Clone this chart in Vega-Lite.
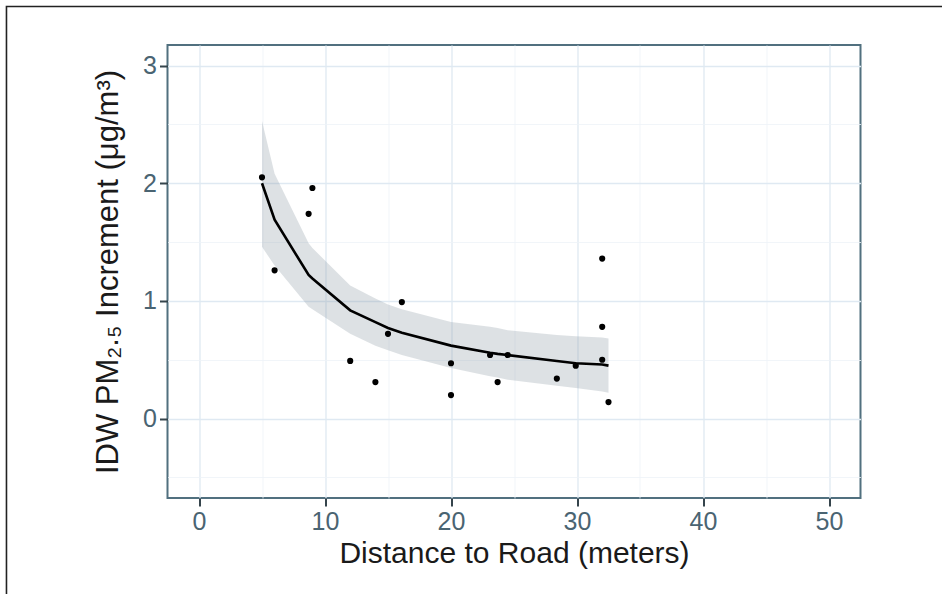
{
  "$schema": "https://vega.github.io/schema/vega-lite/v6.json",
  "autosize": {"type": "none"},
  "width": 693,
  "height": 453,
  "padding": {"left": 167.5, "top": 45, "right": 81.5, "bottom": 96},
  "background": "white",
  "datasets": {
    "points": [
      {"distance": 5.0, "increment": 2.05},
      {"distance": 6.0, "increment": 1.26},
      {"distance": 8.7, "increment": 1.74},
      {"distance": 9.0, "increment": 1.96},
      {"distance": 12.0, "increment": 0.49},
      {"distance": 14.0, "increment": 0.31},
      {"distance": 15.0, "increment": 0.72},
      {"distance": 16.1, "increment": 0.99},
      {"distance": 20.0, "increment": 0.47},
      {"distance": 20.0, "increment": 0.20},
      {"distance": 23.1, "increment": 0.54},
      {"distance": 23.7, "increment": 0.31},
      {"distance": 24.5, "increment": 0.54},
      {"distance": 28.4, "increment": 0.34},
      {"distance": 29.9, "increment": 0.45},
      {"distance": 32.0, "increment": 1.36},
      {"distance": 32.0, "increment": 0.78},
      {"distance": 32.0, "increment": 0.50},
      {"distance": 32.5, "increment": 0.14}
    ],
    "fit": [
      {"distance": 5.0, "fit": 2.00, "lower": 1.46, "upper": 2.53},
      {"distance": 6.0, "fit": 1.69, "lower": 1.30, "upper": 2.08},
      {"distance": 8.7, "fit": 1.22, "lower": 0.95, "upper": 1.49},
      {"distance": 9.0, "fit": 1.19, "lower": 0.93, "upper": 1.45},
      {"distance": 12.0, "fit": 0.92, "lower": 0.72, "upper": 1.13},
      {"distance": 14.0, "fit": 0.82, "lower": 0.62, "upper": 1.02},
      {"distance": 15.0, "fit": 0.77, "lower": 0.58, "upper": 0.97},
      {"distance": 16.1, "fit": 0.73, "lower": 0.54, "upper": 0.93},
      {"distance": 20.0, "fit": 0.62, "lower": 0.43, "upper": 0.82},
      {"distance": 23.1, "fit": 0.56, "lower": 0.36, "upper": 0.78},
      {"distance": 23.7, "fit": 0.55, "lower": 0.35, "upper": 0.77},
      {"distance": 24.5, "fit": 0.54, "lower": 0.33, "upper": 0.75},
      {"distance": 28.4, "fit": 0.49, "lower": 0.28, "upper": 0.71},
      {"distance": 29.9, "fit": 0.47, "lower": 0.26, "upper": 0.70},
      {"distance": 32.0, "fit": 0.46, "lower": 0.23, "upper": 0.69},
      {"distance": 32.5, "fit": 0.45, "lower": 0.22, "upper": 0.68}
    ]
  },
  "layer": [
    {
      "data": {"name": "fit"},
      "mark": {"type": "area", "fill": "#8f9ca4", "opacity": 0.3},
      "encoding": {
        "x": {
          "field": "distance",
          "type": "quantitative",
          "scale": {"domain": [-2.5, 52.5], "nice": false, "zero": false},
          "axis": {
            "title": "Distance to Road (meters)",
            "values": [0, 5, 10, 15, 20, 25, 30, 35, 40, 45, 50],
            "labelExpr": "datum.value % 10 === 0 ? format(datum.value, 'd') : ''",
            "gridColor": {"condition": {"test": "datum.value % 10 === 0", "value": "#dfe9f2"}, "value": "#edf3f8"},
            "gridWidth": {"condition": {"test": "datum.value % 10 === 0", "value": 1.3}, "value": 0.8},
            "tickColor": {"condition": {"test": "datum.value % 10 === 0", "value": "#35444c"}, "value": "transparent"}
          }
        },
        "y": {
          "field": "lower",
          "type": "quantitative",
          "scale": {"domain": [-0.675, 3.175], "nice": false, "zero": false},
          "axis": {
            "title": "IDW PM₂.₅ Increment (μg/m³)",
            "values": [-0.5, 0, 0.5, 1, 1.5, 2, 2.5, 3],
            "labelExpr": "datum.value % 1 === 0 ? format(datum.value, 'd') : ''",
            "gridColor": {"condition": {"test": "datum.value % 1 === 0", "value": "#dfe9f2"}, "value": "#edf3f8"},
            "gridWidth": {"condition": {"test": "datum.value % 1 === 0", "value": 1.3}, "value": 0.8},
            "tickColor": {"condition": {"test": "datum.value % 1 === 0", "value": "#35444c"}, "value": "transparent"}
          }
        },
        "y2": {"field": "upper"}
      }
    },
    {
      "data": {"name": "fit"},
      "mark": {"type": "line", "color": "#000000", "strokeWidth": 2.6},
      "encoding": {
        "x": {"field": "distance", "type": "quantitative"},
        "y": {"field": "fit", "type": "quantitative"}
      }
    },
    {
      "data": {"name": "points"},
      "mark": {"type": "point", "filled": true, "color": "#000000", "opacity": 1, "size": 38},
      "encoding": {
        "x": {"field": "distance", "type": "quantitative"},
        "y": {"field": "increment", "type": "quantitative"}
      }
    },
    {
      "data": {"values": [{}]},
      "mark": {"type": "rect", "fill": "transparent", "stroke": "#222222", "strokeWidth": 1.6, "clip": false},
      "encoding": {
        "x": {"datum": -15.28},
        "x2": {"datum": 62},
        "y": {"datum": 3.502},
        "y2": {"datum": -2}
      }
    }
  ],
  "config": {
    "font": "Liberation Sans",
    "view": {"stroke": "#51707f", "strokeWidth": 2},
    "axis": {
      "domain": false,
      "labelFont": "Liberation Sans",
      "labelFontSize": 25,
      "labelColor": "#4a6472",
      "labelPadding": 3,
      "labelFlush": false,
      "labelOverlap": false,
      "tickSize": 8,
      "tickWidth": 2,
      "titleFont": "Liberation Sans",
      "titleFontSize": 30,
      "titleFontWeight": "normal",
      "titleColor": "#1a1a1a"
    },
    "axisX": {"titlePadding": 4},
    "axisY": {"titlePadding": 18, "titleFontSize": 31}
  }
}
